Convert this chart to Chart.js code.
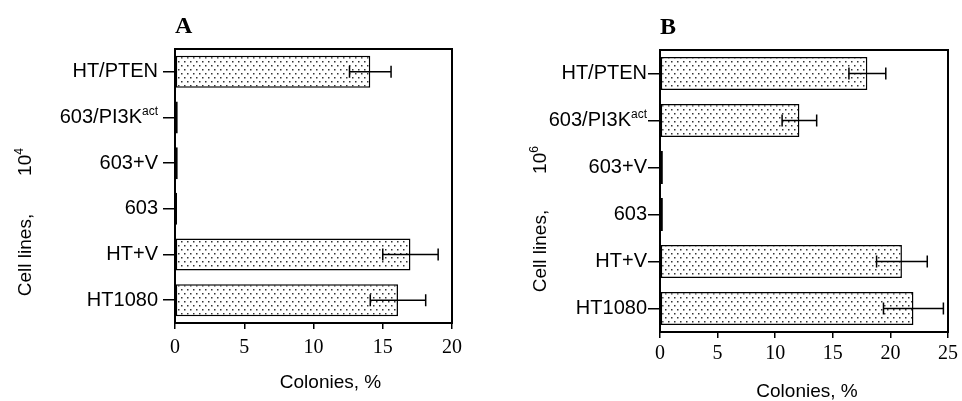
<!DOCTYPE html>
<html>
<head>
<meta charset="utf-8">
<script src="https://cdn.jsdelivr.net/npm/chart.js@4/dist/chart.umd.min.js"></script>
<style>
  html, body { margin: 0; padding: 0; background: #fff; }
  .panel { position: absolute; top: 0; width: 481px; height: 401px; }
</style>
</head>
<body>
<div class="panel" style="left:0"><canvas id="chartA" width="481" height="401"></canvas></div>
<div class="panel" style="left:481px"><canvas id="chartB" width="481" height="401"></canvas></div>
<script>
// cell lines, top to bottom ("^" marks a superscript)
var cellLines = ['HT/PTEN', '603/PI3K^act', '603+V', '603', 'HT+V', 'HT1080'];

// panel A: 10^4 cells plated
var coloniesA = [14.1, 0.2, 0.2, 0.15, 17.0, 16.1];
var errorsA = [1.5, 0, 0, 0, 2.0, 2.0];
var maxA = 20;

// panel B: 10^6 cells plated
var coloniesB = [18.0, 12.1, 0.25, 0.25, 21.0, 22.0];
var errorsB = [1.6, 1.5, 0, 0, 2.2, 2.6];
var maxB = 25;

var SANS = '"Liberation Sans", Arial, sans-serif';
var SERIF = '"Liberation Serif", "Times New Roman", serif';

function dotPattern() {
    var c = document.createElement('canvas');
    c.width = 6; c.height = 8;
    var g = c.getContext('2d');
    g.fillStyle = '#fff';
    g.fillRect(0, 0, 6, 8);
    g.fillStyle = '#333';
    g.fillRect(1, 1, 1.5, 1.5);
    g.fillRect(4, 5, 1.5, 1.5);
    return g.createPattern(c, 'repeat');
}

// error bars, frame, category labels and the axis titles
var extras = {
    id: 'extras',
    afterDatasetsDraw: function (chart, args, o) {
        var ctx = chart.ctx, a = chart.chartArea;
        var x = chart.scales.x, y = chart.scales.y;
        var vals = chart.data.datasets[0].data;
        ctx.save();
        ctx.strokeStyle = '#000';
        ctx.fillStyle = '#000';
        ctx.lineWidth = 1.5;
        o.errors.forEach(function (e, i) {
            if (!e) return;
            var x1 = x.getPixelForValue(vals[i] - e);
            var x2 = x.getPixelForValue(vals[i] + e);
            var yy = y.getPixelForValue(i);
            ctx.beginPath();
            ctx.moveTo(x1, yy); ctx.lineTo(x2, yy);
            ctx.moveTo(x1, yy - 6); ctx.lineTo(x1, yy + 6);
            ctx.moveTo(x2, yy - 6); ctx.lineTo(x2, yy + 6);
            ctx.stroke();
        });

        ctx.lineWidth = 2;
        ctx.strokeRect(a.left, a.top, a.right - a.left, a.bottom - a.top);

        // category labels with optional superscript
        ctx.textBaseline = 'middle';
        chart.data.labels.forEach(function (lab, i) {
            var parts = lab.split('^');
            var yy = y.getPixelForValue(i);
            var r = a.left - o.labelGap;
            var w2 = 0;
            if (parts[1]) {
                ctx.font = '12px ' + SANS;
                w2 = ctx.measureText(parts[1]).width;
                ctx.textAlign = 'left';
                ctx.fillText(parts[1], r - w2, yy - 6);
            }
            ctx.font = '20px ' + SANS;
            ctx.textAlign = 'right';
            ctx.fillText(parts[0], r - w2, yy);
        });

        // x title
        ctx.font = '19px ' + SANS;
        ctx.textAlign = 'center';
        ctx.fillText('Colonies, %', (a.left + a.right) / 2 + o.xTitleDx, o.xTitleY);

        // y title: "Cell lines,   10^n"
        ctx.translate(o.titleX, o.titleY1);
        ctx.rotate(-Math.PI / 2);
        ctx.fillText('Cell lines,', 0, 0);
        ctx.rotate(Math.PI / 2);
        ctx.translate(0, o.titleY2 - o.titleY1);
        ctx.rotate(-Math.PI / 2);
        var w10 = ctx.measureText('10').width;
        ctx.font = '12px ' + SANS;
        var wsup = ctx.measureText(o.power).width;
        ctx.textAlign = 'left';
        ctx.fillText(o.power, -(w10 + wsup) / 2 + w10, -6);
        ctx.font = '19px ' + SANS;
        ctx.fillText('10', -(w10 + wsup) / 2, 0);
        ctx.restore();
    }
};

function makeChart(id, letter, values, errors, max, cfg) {
    return new Chart(document.getElementById(id), {
        type: 'bar',
        data: {
            labels: cellLines,
            datasets: [{
                data: values,
                backgroundColor: dotPattern(),
                borderColor: '#000',
                borderWidth: 1.5,
                borderSkipped: false,
                categoryPercentage: 1,
                barPercentage: 0.7
            }]
        },
        options: {
            indexAxis: 'y',
            responsive: false,
            animation: false,
            layout: { padding: { left: 0, right: cfg.right, top: 0, bottom: 0 } },
            scales: {
                x: {
                    min: 0,
                    max: max,
                    ticks: { stepSize: 5, color: '#000', padding: cfg.tickPad, font: { family: SERIF, size: 20 } },
                    grid: { drawOnChartArea: false, tickLength: 6, color: '#000', lineWidth: 1.5 },
                    border: { display: false },
                    afterFit: function (s) { s.height = 401 - cfg.bottom; }
                },
                y: {
                    ticks: { display: false },
                    grid: { offset: false, drawOnChartArea: false, tickLength: 12, color: '#000', lineWidth: 1.5 },
                    border: { display: false },
                    afterFit: function (s) { s.width = cfg.left; }
                }
            },
            plugins: {
                legend: { display: false },
                tooltip: { enabled: false },
                title: {
                    display: true,
                    text: letter,
                    align: 'start',
                    fullSize: false,
                    color: '#000',
                    font: { family: SERIF, size: 24, weight: 'bold', lineHeight: 1.2 },
                    padding: { top: cfg.top - 36.8, bottom: 8 }
                },
                extras: {
                    errors: errors,
                    labelGap: cfg.labelGap,
                    xTitleDx: cfg.xTitleDx,
                    xTitleY: cfg.xTitleY,
                    titleX: cfg.titleX,
                    titleY1: cfg.titleY1,
                    titleY2: cfg.titleY2,
                    power: cfg.power
                }
            }
        },
        plugins: [extras]
    });
}

makeChart('chartA', 'A', coloniesA, errorsA, maxA,
    { left: 175, right: 29, top: 49, bottom: 323, tickPad: 7, labelGap: 17,
      xTitleDx: 17, xTitleY: 383, titleX: 26, titleY1: 255, titleY2: 162, power: '4' });
makeChart('chartB', 'B', coloniesB, errorsB, maxB,
    { left: 179, right: 8, top: 50, bottom: 332, tickPad: 4, labelGap: 13,
      xTitleDx: 3, xTitleY: 392, titleX: 60, titleY1: 251, titleY2: 160, power: '6' });
</script>
</body>
</html>
